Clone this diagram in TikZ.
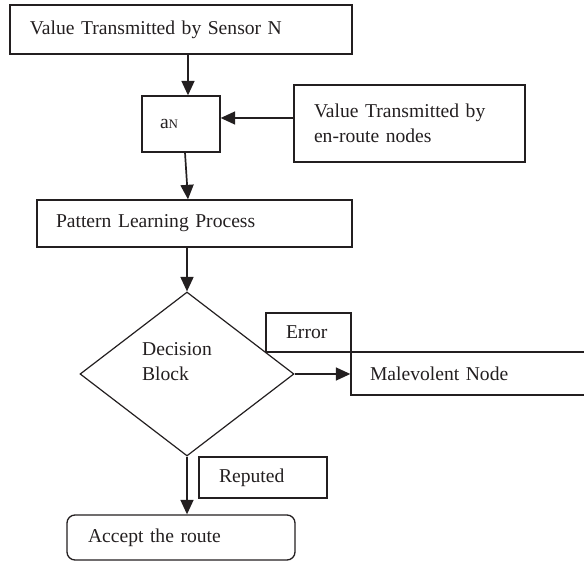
\documentclass[tikz,border=0pt]{standalone}
\usepackage{fontspec}
\setmainfont{Liberation Serif}
\usetikzlibrary{shapes.geometric,arrows.meta}
\definecolor{ink}{HTML}{231F20}
\begin{document}
\begin{tikzpicture}[x=1pt,y=1pt,
  every node/.style={font=\fontsize{19.6}{25}\selectfont, text=ink},
  box/.style={draw=ink, line width=1.3pt, rectangle, align=left, inner ysep=0pt},
  arr/.style={draw=ink, line width=1.7pt, -{Triangle[length=14.5pt,width=13pt]}}]
\useasboundingbox (0,0) rectangle (584,-561);
% boxes
\node[box, minimum width=342pt, minimum height=49pt, text width=302pt, inner xsep=20pt] (top) at (181,-29.5) {Value Transmitted by Sensor N};
\node[box, minimum width=78pt, minimum height=56pt, text width=42pt, inner xsep=18pt] (an) at (181,-124) {a{\fontsize{13}{13}\selectfont N}};
\node[box, minimum width=231pt, minimum height=77pt, text width=191pt, inner xsep=20pt] (er) at (409.5,-123.5) {Value Transmitted by\\en-route nodes\\[-6pt]};
\node[box, minimum width=315pt, minimum height=47pt, text width=277pt, inner xsep=19pt] (pl) at (194.5,-223.5) {Pattern Learning Process};
\node[draw=ink, line width=1.2pt, diamond, minimum width=214pt, minimum height=164pt, inner sep=0pt,
  label={[xshift=-10pt,yshift=12pt,align=left,text=ink]center:Decision\\Block}] (dec) at (187,-374) {};
\node[box, minimum width=85pt, minimum height=39pt, text width=45pt, inner xsep=20pt] (err) at (308.5,-332.5) {Error};
\node[box, minimum width=260pt, minimum height=43pt, text width=222pt, inner xsep=19pt] (mal) at (481,-373.5) {Malevolent Node};
\node[box, minimum width=128pt, minimum height=41pt, text width=88pt, inner xsep=20pt] (rep) at (263,-477.5) {Reputed};
\node[box, rounded corners=8pt, minimum width=228pt, minimum height=45pt, text width=186pt, inner xsep=21pt] (acc) at (181,-537.5) {Accept the route};
% connectors
\draw[arr] ([xshift=7pt]top.south) -- ([xshift=7pt]an.north);
\draw[arr] ([yshift=5.5pt]er.west) -- ([yshift=6pt]an.east);
\draw[arr] ([xshift=4pt]an.south) -- ([xshift=-6.5pt]pl.north);
\draw[arr] ([xshift=-7.5pt]pl.south) -- (dec.north);
\draw[arr] (dec.east) -- (dec.east -| mal.west);
\draw[arr] (dec.south) -- (dec.south |- acc.north);
\end{tikzpicture}
\end{document}
